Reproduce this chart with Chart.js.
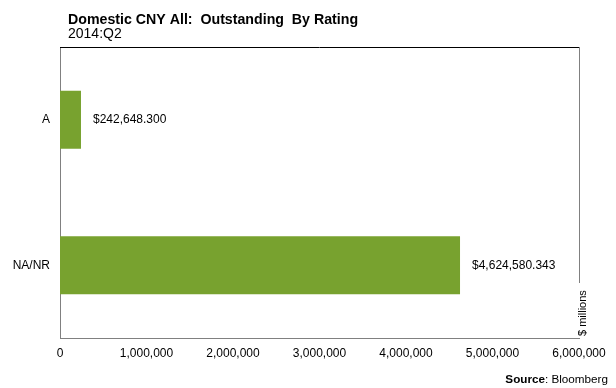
<!DOCTYPE html>
<html>
<head>
<meta charset="utf-8">
<script src="https://cdn.jsdelivr.net/npm/chart.js@4/dist/chart.umd.min.js"></script>
<style>
  html, body { margin: 0; padding: 0; background: #fff; }
  #wrap { width: 616px; height: 388px; position: relative; }
</style>
</head>
<body>
<div id="wrap"><canvas id="myPlot"></canvas></div>
<script>
const categories = ['A', 'NA/NR'];
const outstanding = [242648.300, 4624580.343];
const xTicks = [0, 1000000, 2000000, 3000000, 4000000, 5000000, 6000000];

const police = 'Arial, "Liberation Sans", sans-serif';
const vert = '#78A22F';

// dessin du titre, du cadre, des valeurs et de la source
const decor = {
  id: 'decor',
  afterDraw(chart) {
    const ctx = chart.ctx;
    const a = chart.chartArea;
    const xs = chart.scales.x;
    const ys = chart.scales.y;
    ctx.save();
    ctx.fillStyle = '#000';
    ctx.textBaseline = 'alphabetic';
    ctx.textAlign = 'left';
    ctx.font = 'bold 14.2px ' + police;
    ctx.fillText('Domestic CNY All:  Outstanding  By Rating', 68, 24);
    ctx.font = '14px ' + police;
    ctx.fillText('2014:Q2', 68, 38);

    // cadre haut + droite
    ctx.strokeStyle = '#000';
    ctx.lineWidth = 1;
    ctx.beginPath();
    ctx.moveTo(a.left, a.top + 0.5);
    ctx.lineTo(a.right, a.top + 0.5);
    ctx.stroke();
    ctx.strokeStyle = '#808080';
    ctx.beginPath();
    ctx.moveTo(a.right + 0.5, a.top);
    ctx.lineTo(a.right + 0.5, a.bottom - 55);
    ctx.stroke();

    ctx.save();
    ctx.translate(a.right + 4, a.bottom - 2);
    ctx.rotate(-Math.PI / 2);
    ctx.font = '11px ' + police;
    ctx.textAlign = 'left';
    ctx.textBaseline = 'middle';
    ctx.fillText('$ millions', 0, 0);
    ctx.restore();

    // valeurs
    ctx.font = '12px ' + police;
    ctx.textBaseline = 'middle';
    outstanding.forEach((v, i) => {
      const txt = '$' + v.toLocaleString('en-US', {minimumFractionDigits: 3, maximumFractionDigits: 3});
      ctx.fillText(txt, xs.getPixelForValue(v) + 12, ys.getPixelForValue(i));
    });

    ctx.textAlign = 'right';
    ctx.textBaseline = 'alphabetic';
    ctx.font = '11.7px ' + police;
    const reste = ': Bloomberg';
    ctx.fillText(reste, 608, 383);
    const w = ctx.measureText(reste).width;
    ctx.font = 'bold 11.7px ' + police;
    ctx.fillText('Source', 608 - w, 383);
    ctx.restore();
  }
};

new Chart(document.getElementById('myPlot'), {
  type: 'bar',
  data: {
    labels: categories,
    datasets: [{
      data: outstanding,
      backgroundColor: vert,
      borderWidth: 0,
      barPercentage: 0.4,
      categoryPercentage: 1
    }]
  },
  options: {
    indexAxis: 'y',
    responsive: true,
    maintainAspectRatio: false,
    animation: false,
    layout: { padding: { left: 0, right: 37, top: 47, bottom: 0 } },
    plugins: { legend: { display: false }, tooltip: { enabled: false } },
    scales: {
      x: {
        min: 0,
        max: 6000000,
        afterBuildTicks: s => { s.ticks = xTicks.map(v => ({ value: v })); },
        afterFit: s => { s.height = 50; },
        grid: { display: false, drawTicks: false },
        border: { display: true, color: '#808080', width: 1 },
        ticks: {
          padding: 8,
          color: '#000',
          font: { family: police, size: 12 },
          maxRotation: 0,
          callback: v => v.toLocaleString('en-US')
        }
      },
      y: {
        afterFit: s => { s.width = 60; },
        grid: { display: false, drawTicks: false },
        border: { display: true, color: '#808080', width: 1 },
        ticks: {
          padding: 10,
          color: '#000',
          font: { family: police, size: 12 }
        }
      }
    }
  },
  plugins: [decor]
});
</script>
</body>
</html>
